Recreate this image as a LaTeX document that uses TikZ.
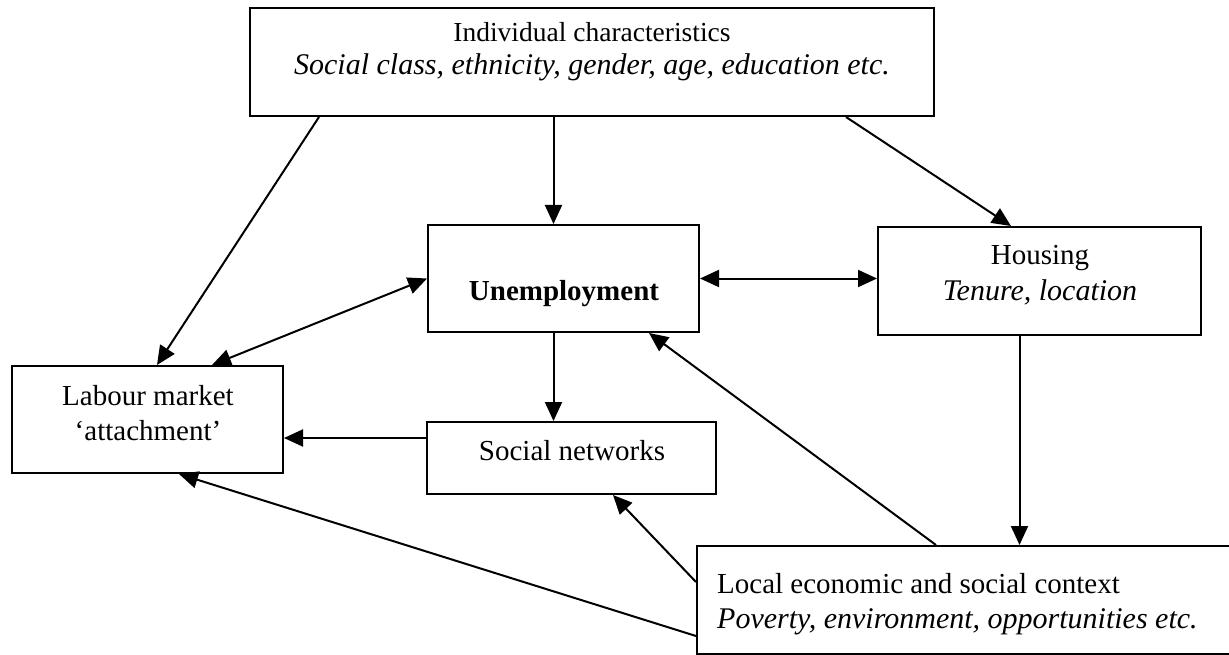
\documentclass[tikz,border=0pt]{standalone}
\usepackage{fontspec}
\setmainfont{Liberation Serif}
\usetikzlibrary{arrows.meta}

\begin{document}
\begin{tikzpicture}[x=1pt,y=-1pt,>={Triangle[length=19pt,width=17pt]}]
	\tikzset{box/.style={draw,line width=2pt,rectangle,inner sep=0pt}}
	\tikzset{line/.style={font=\fontsize{29}{35}\selectfont,anchor=base,inner sep=0pt}}
	\tikzset{topline/.style={line,font=\fontsize{27.5}{25}\selectfont}}
	\tikzset{list/.style={line,font=\fontsize{30}{35}\selectfont\itshape}}
	\tikzset{link/.style={line width=2pt,->}}
	\tikzset{both/.style={line width=2pt,<->}}
	\useasboundingbox (0,0) rectangle (1229,655);
	\clip (0,0) rectangle (1229,655);
	% boxes
	\node[box,minimum width=684pt,minimum height=108pt] (ind) at (592,62) {};
	\node[box,minimum width=271pt,minimum height=107pt] (unemp) at (563.5,278.5) {};
	\node[box,minimum width=323pt,minimum height=108pt] (housing) at (1039.5,281) {};
	\node[box,minimum width=271pt,minimum height=107pt] (labour) at (147.5,419.5) {};
	\node[box,minimum width=289pt,minimum height=72pt] (social) at (571.5,458) {};
	\node[box,minimum width=543pt,minimum height=108pt] (local) at (968.5,600) {};
	% texts
	\node[topline] (indname) at (592,42) {Individual characteristics};
	\node[list] (indlist) at (592,75) {Social class, ethnicity, gender, age, education etc.};
	\node[line] (unempname) at (564,300) {\bfseries Unemployment};
	\node[line] (housingname) at (1040,265) {Housing};
	\node[list] (housinglist) at (1040,300) {Tenure, location};
	\node[line] (labourname) at (148,405) {Labour market};
	\node[line] (labourlist) at (148,440) {`attachment'};
	\node[line] (socialname) at (572,460) {Social networks};
	\node[line,anchor=base west] (localname) at (717,593) {Local economic and social context};
	\node[list,anchor=base west] (locallist) at (717,628) {Poverty, environment, opportunities etc.};
	% connectors
	\draw[link] ([xshift=-10]unemp.north |- ind.south) -- ([xshift=-10]unemp.north);
	\draw[link] ([xshift=70]ind.south west) -- ([xshift=146]labour.north west);
	\draw[link] ([xshift=-89]ind.south east) -- ([xshift=134]housing.north west);
	\draw[both] ([xshift=201]labour.north west) -- (unemp.west);
	\draw[both] (unemp.east) -- (unemp.east -| housing.west);
	\draw[link] ([xshift=-10]unemp.south) -- ([xshift=-10]unemp.south |- social.north);
	\draw[link] ([yshift=20]social.west) -- ([yshift=20]social.west -| labour.east);
	\draw[link] ([xshift=-20]housing.south) -- ([xshift=-20]housing.south |- local.north);
	\draw[link] ([xshift=240]local.north west) -- ([xshift=-51]unemp.south east);
	\draw[link] ([yshift=-37]local.north west) -- ([xshift=-104]social.south east);
	\draw[link] ([yshift=-91]local.north west) -- ([xshift=168]labour.south west);
\end{tikzpicture}
\end{document}
